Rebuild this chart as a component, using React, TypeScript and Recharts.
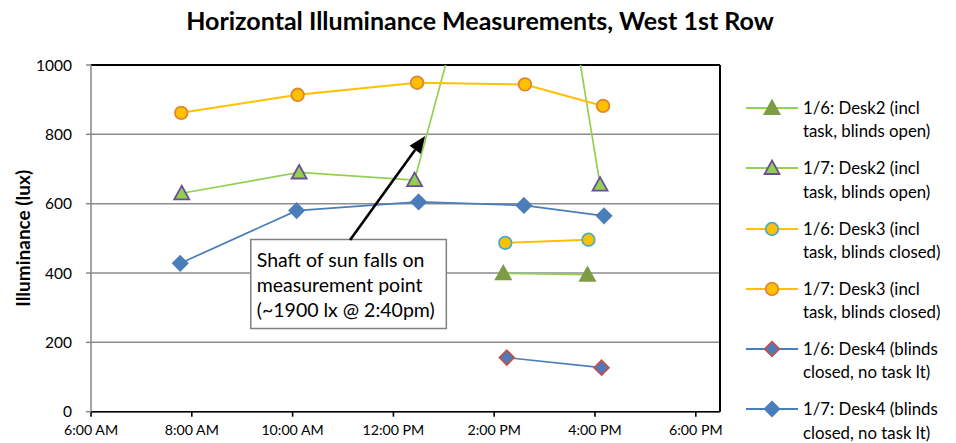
import React from "react";
import {
  LineChart,
  Line,
  XAxis,
  YAxis,
  CartesianGrid,
  ReferenceLine,
  ReferenceArea,
} from "recharts";

const FONT = "Lato, 'Open Sans', sans-serif";

const hourTicks = [6, 8, 10, 12, 14, 16, 18];
const luxTicks = [0, 200, 400, 600, 800, 1000];

// 1/6 readings (afternoon only)
const desk2Jan6 = [
  { t: 14.18, v: 399 },
  { t: 15.85, v: 395 },
];
const desk3Jan6 = [
  { t: 14.22, v: 487 },
  { t: 15.87, v: 496 },
];
const desk4Jan6 = [
  { t: 14.25, v: 156 },
  { t: 16.13, v: 127 },
];

// 1/7 readings
const desk2Jan7 = [
  { t: 7.8, v: 630 },
  { t: 10.13, v: 690 },
  { t: 12.42, v: 668 },
  { t: 14.7, v: 1900 },
  { t: 16.1, v: 655 },
];
const desk3Jan7 = [
  { t: 7.79, v: 862 },
  { t: 10.1, v: 914 },
  { t: 12.47, v: 949 },
  { t: 14.61, v: 944 },
  { t: 16.16, v: 882 },
];
const desk4Jan7 = [
  { t: 7.77, v: 428 },
  { t: 10.08, v: 580 },
  { t: 12.5, v: 605 },
  { t: 14.59, v: 595 },
  { t: 16.18, v: 565 },
];

const noteLines = [
  "Shaft of sun falls on",
  "measurement point",
  "(~1900 lx @ 2:40pm)",
];

const GREEN = "#92D050";
const GOLD = "#FFC000";
const BLUE = "#4A7EBB";

const series = [
  { key: "d2j6", data: desk2Jan6, name: ["1/6: Desk2 (incl", "task, blinds open)"], line: GREEN, shape: "triangle", fill: "#7E9C46", stroke: "#7E9C46" },
  { key: "d2j7", data: desk2Jan7, name: ["1/7: Desk2 (incl", "task, blinds open)"], line: GREEN, shape: "triangle", fill: GREEN, stroke: "#6B4E98" },
  { key: "d3j6", data: desk3Jan6, name: ["1/6: Desk3 (incl", "task, blinds closed)"], line: GOLD, shape: "circle", fill: GOLD, stroke: "#4BACC6" },
  { key: "d3j7", data: desk3Jan7, name: ["1/7: Desk3 (incl", "task, blinds closed)"], line: GOLD, shape: "circle", fill: GOLD, stroke: "#E2862E" },
  { key: "d4j6", data: desk4Jan6, name: ["1/6: Desk4 (blinds", "closed, no task lt)"], line: BLUE, shape: "diamond", fill: BLUE, stroke: "#C0504D" },
  { key: "d4j7", data: desk4Jan7, name: ["1/7: Desk4 (blinds", "closed, no task lt)"], line: BLUE, shape: "diamond", fill: BLUE, stroke: BLUE },
];

const X_MAX = 18.48;

function fmtHour(h: number) {
  const hh = h % 12 === 0 ? 12 : h % 12;
  return `${hh}:00 ${h < 12 ? "AM" : "PM"}`;
}

function Marker({ cx, cy, shape, fill, stroke }: any) {
  if (cx == null || cy == null) return null;
  if (shape === "circle") {
    return <circle cx={cx} cy={cy} r={6.3} fill={fill} stroke={stroke} strokeWidth={1.8} />;
  }
  if (shape === "triangle") {
    return (
      <polygon
        points={`${cx},${cy - 7.5} ${cx + 7.5},${cy + 6} ${cx - 7.5},${cy + 6}`}
        fill={fill}
        stroke={stroke}
        strokeWidth={1.8}
      />
    );
  }
  return (
    <polygon
      points={`${cx},${cy - 7.3} ${cx + 7.3},${cy} ${cx},${cy + 7.3} ${cx - 7.3},${cy}`}
      fill={fill}
      stroke={stroke}
      strokeWidth={1.8}
    />
  );
}

function LegendBox() {
  return (
    <div
      style={{
        position: "absolute",
        left: 746,
        top: 96,
        width: 210,
        fontFamily: FONT,
        fontSize: 16.8,
        color: "#000",
      }}
    >
      {series.map((s) => (
        <div key={s.key} style={{ display: "flex", height: 60.3, alignItems: "flex-start" }}>
          <svg width={57} height={24} style={{ flex: "none" }}>
            <line x1={0} y1={12} x2={52} y2={12} stroke={s.line} strokeWidth={2} />
            <Marker cx={26} cy={12} shape={s.shape} fill={s.fill} stroke={s.stroke} />
          </svg>
          <div style={{ lineHeight: "23.3px", whiteSpace: "nowrap" }}>
            {s.name[0]}
            <br />
            {s.name[1]}
          </div>
        </div>
      ))}
    </div>
  );
}

function Arrow(props: any) {
  const { x1, y1, x2, y2 } = props;
  if (x1 == null) return null;
  const dx = x2 - x1;
  const dy = y2 - y1;
  const len = Math.sqrt(dx * dx + dy * dy);
  const ux = dx / len;
  const uy = dy / len;
  const hl = 17;
  const hw = 7;
  const bx = x2 - ux * hl;
  const by = y2 - uy * hl;
  return (
    <g>
      <line x1={x1} y1={y1} x2={bx} y2={by} stroke="#000" strokeWidth={2.6} />
      <polygon
        points={`${x2},${y2} ${bx - uy * hw},${by + ux * hw} ${bx + uy * hw},${by - ux * hw}`}
        fill="#000"
      />
    </g>
  );
}

function NoteLabel(props: any) {
  const { viewBox } = props;
  if (!viewBox) return null;
  return (
    <g>
      {noteLines.map((ln, i) => (
        <text
          key={i}
          x={viewBox.x + 6}
          y={viewBox.y + 28 + i * 25}
          fontFamily={FONT}
          fontSize={19.5}
          fill="#000"
        >
          {ln}
        </text>
      ))}
    </g>
  );
}

function YLabel(props: any) {
  const { viewBox } = props;
  const cy = viewBox.y + viewBox.height / 2;
  return (
    <text
      x={23}
      y={cy}
      transform={`rotate(-90 23 ${cy})`}
      textAnchor="middle"
      dominantBaseline="central"
      fontFamily={FONT}
      fontWeight="bold"
      fontSize={19}
      fill="#000"
    >
      Illuminance (lux)
    </text>
  );
}

export default function App() {
  return (
    <div style={{ position: "absolute", left: 0, top: 0, width: 956, height: 443, background: "#fff" }}>
      <div
        style={{
          position: "absolute",
          left: 0,
          top: 5,
          width: 956,
          textAlign: "center",
          fontFamily: FONT,
          fontWeight: "bold",
          fontSize: 25,
          color: "#000",
          paddingLeft: 2,
        }}
      >
        Horizontal Illuminance Measurements, West 1st Row
      </div>
      <div style={{ position: "absolute", left: 0, top: 0 }}>
        <LineChart
          width={956}
          height={443}
          margin={{ top: 65, right: 236, bottom: 0, left: 0 }}
        >
          <CartesianGrid vertical={false} stroke="#8C8C8C" strokeWidth={1.5} />
          <XAxis
            type="number"
            dataKey="t"
            domain={[6, X_MAX]}
            ticks={hourTicks}
            tickFormatter={fmtHour}
            allowDataOverflow
            height={31.3}
            stroke="#000"
            strokeWidth={1.6}
            tickSize={5}
            tickMargin={8}
            tick={{ fill: "#000", fontFamily: FONT, fontSize: 14.2 }}
          />
          <YAxis
            type="number"
            domain={[0, 1000]}
            ticks={luxTicks}
            allowDataOverflow
            width={91}
            stroke="#868686"
            strokeWidth={1.5}
            tickSize={5}
            tickMargin={14}
            tick={{ fill: "#000", fontFamily: FONT, fontSize: 15.5 }}
            label={<YLabel />}
          />
          <ReferenceLine y={1000} stroke="#000" strokeWidth={2} />
          <ReferenceLine x={X_MAX} stroke="#000" strokeWidth={2} />
          <ReferenceArea
            x1={9.17}
            x2={13.05}
            y1={240}
            y2={497}
            fill="#fff"
            fillOpacity={1}
            stroke="#808080"
            strokeWidth={1.5}
            label={<NoteLabel />}
          />
          {series.map((s) => (
            <Line
              key={s.key}
              data={s.data}
              dataKey="v"
              type="linear"
              stroke={s.line}
              strokeWidth={s.line === GOLD ? 2 : 1.7}
              isAnimationActive={false}
              legendType="none"
              dot={(p: any) => (
                <Marker key={`${s.key}-${p.index}`} cx={p.cx} cy={p.cy} shape={s.shape} fill={s.fill} stroke={s.stroke} />
              )}
              activeDot={false}
            />
          ))}
          <ReferenceLine
            segment={[
              { x: 11.14, y: 495 },
              { x: 12.63, y: 795 },
            ]}
            shape={<Arrow />}
          />
        </LineChart>
      </div>
      <LegendBox />
    </div>
  );
}
